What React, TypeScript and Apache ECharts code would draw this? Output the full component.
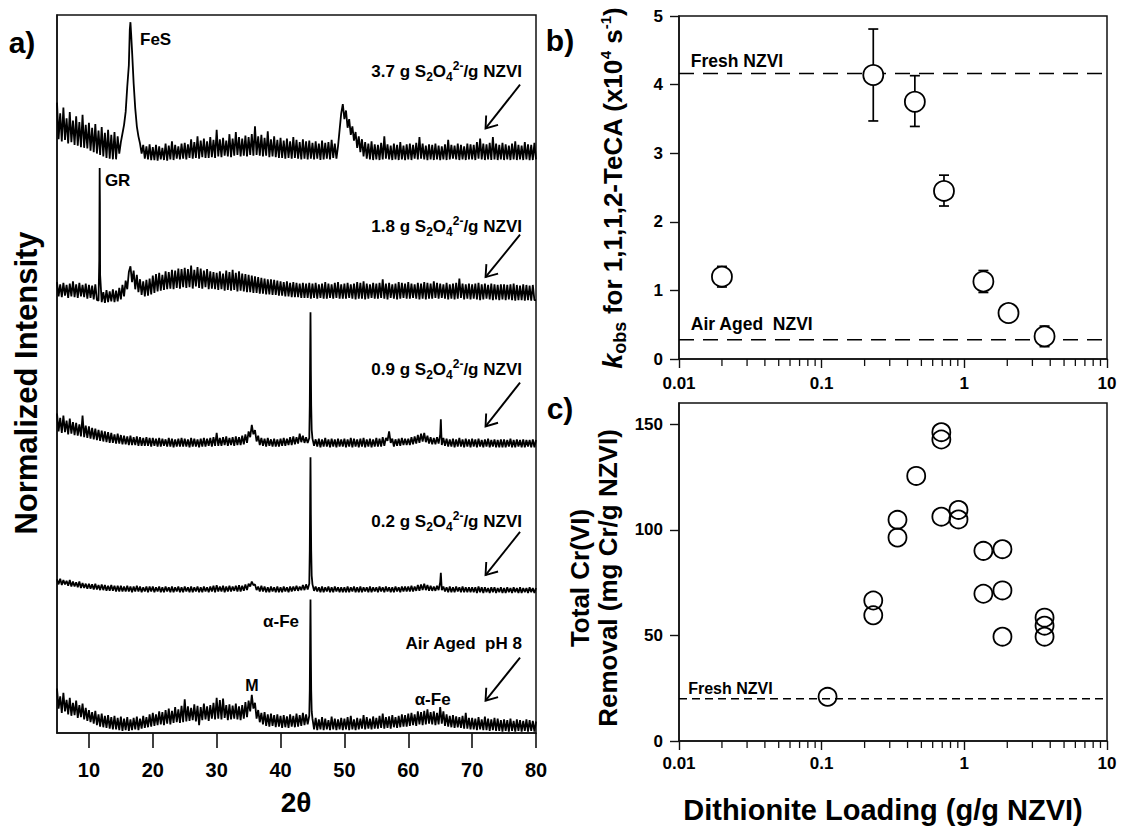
import React, { useEffect, useRef } from "react";
import * as echarts from "echarts";

const FONT = '"Liberation Sans", Arial, Helvetica, sans-serif';

// ---------------- panel a : XRD patterns (2-theta grid 5..80, step 0.25) ----------------
const XRD_START = 5;
const XRD_STEP = 0.25;
const XRD_TICKS = [10, 20, 30, 40, 50, 60, 70, 80];

const XRD_AIR = [
  6.2, 3.4, 5.1, 2.8, 5.6, 3.0, 4.6, 2.6, 4.9, 2.4, 4.2, 2.5, 4.5, 2.1, 3.9, 2.2, 4.1, 1.9, 3.5, 1.7,
  3.2, 1.5, 2.9, 1.3, 3.1, 1.1, 2.6, 0.9, 2.7, 0.8, 2.4, 0.7, 2.5, 0.6, 2.2, 0.5, 2.4, 0.5, 2.1, 0.4,
  2.3, 0.3, 2.0, 0.4, 2.2, 0.3, 1.9, 0.4, 2.1, 0.5, 2.3, 0.4, 2.0, 0.6, 2.4, 0.7, 2.2, 0.8, 2.6, 0.9,
  2.8, 1.0, 2.6, 1.1, 3.0, 1.2, 2.9, 1.1, 3.2, 1.3, 3.4, 1.2, 3.1, 1.4, 3.6, 1.5, 3.3, 1.4, 3.8, 1.5,
  4.7, 1.6, 3.7, 1.7, 3.5, 1.8, 4.0, 1.6, 3.8, 1.1, 3.6, 1.8, 4.1, 1.9, 3.7, 1.7, 3.9, 2.0, 4.2, 1.9,
  4.9, 2.0, 4.6, 1.9, 4.8, 2.1, 3.9, 1.8, 4.0, 1.9, 3.8, 2.0, 4.1, 1.9, 3.7, 1.8, 3.9, 2.0, 4.3, 2.2,
  4.5, 3.0, 5.3, 3.4, 4.2, 2.0, 3.2, 1.5, 2.8, 1.2, 2.9, 1.0, 2.6, 0.9, 2.7, 1.0, 2.5, 0.8, 2.6, 0.9,
  2.4, 0.7, 2.5, 0.8, 2.3, 0.7, 2.6, 0.9, 2.4, 0.8, 2.7, 0.9, 2.5, 1.0, 2.8, 1.1, 2.6, 1.2, 2.4, 11,
  2.0, 0.5, 2.1, 0.4, 1.9, 0.5, 2.2, 0.4, 2.0, 0.5, 1.8, 0.4, 2.3, 0.5, 2.0, 0.4, 1.9, 0.5, 2.1, 0.4,
  2.0, 0.5, 2.2, 0.4, 2.4, 0.5, 1.9, 0.4, 2.1, 0.5, 2.0, 0.6, 2.5, 0.5, 2.2, 0.6, 2.0, 0.5, 2.3, 0.6,
  2.1, 0.6, 2.4, 0.7, 2.7, 0.6, 2.2, 0.7, 2.3, 0.6, 2.5, 0.8, 2.2, 0.7, 2.4, 0.8, 2.6, 0.9, 2.5, 0.9,
  2.7, 1.0, 2.8, 1.1, 2.6, 1.0, 3.0, 1.2, 2.9, 1.1, 3.1, 1.2, 3.3, 1.3, 2.9, 1.2, 3.0, 1.1, 2.8, 1.2,
  3.6, 1.3, 3.0, 1.0, 2.6, 0.9, 2.4, 0.8, 2.5, 0.7, 2.3, 0.8, 2.2, 0.7, 2.4, 0.6, 2.8, 0.6, 2.1, 0.5,
  2.1, 0.5, 2.0, 0.4, 2.2, 0.5, 1.9, 0.4, 2.3, 0.4, 2.0, 0.3, 1.9, 0.4, 2.1, 0.3, 2.0, 0.3, 1.8, 0.2,
  1.9, 0.3, 1.8, 0.2, 2.0, 0.3, 1.7, 0.2, 1.9, 0.3, 1.8, 0.2, 1.7, 0.3, 1.9, 0.2, 1.8, 0.3, 1.7, 0.2,
  1.6,
];
const XRD_AIR_PEAKS = [[44.58, 6], [44.64, 13.5], [44.69, 18.6], [44.72, 15], [44.8, 6], [44.88, 3]];

const XRD_02 = [
  2.0, 1.3, 2.1, 1.2, 1.9, 1.3, 1.8, 1.1, 1.9, 1.0, 1.7, 1.0, 1.6, 0.9, 1.7, 0.8, 1.5, 0.8, 1.4, 0.7,
  1.4, 0.7, 1.3, 0.6, 1.4, 0.6, 1.2, 0.5, 1.3, 0.5, 1.2, 0.4, 1.1, 0.4, 1.2, 0.4, 1.1, 0.3, 1.1, 0.3,
  1.1, 0.3, 1.0, 0.3, 1.1, 0.3, 1.0, 0.2, 1.0, 0.3, 1.1, 0.3, 1.0, 0.2, 0.9, 0.3, 1.0, 0.2, 1.0, 0.3,
  1.0, 0.2, 0.9, 0.3, 1.0, 0.2, 0.9, 0.2, 1.0, 0.3, 0.9, 0.2, 1.0, 0.2, 0.9, 0.3, 1.0, 0.2, 0.9, 0.2,
  1.0, 0.3, 0.9, 0.2, 1.0, 0.2, 0.9, 0.3, 1.0, 0.2, 0.9, 0.2, 1.0, 0.3, 0.9, 0.2, 1.0, 0.3, 1.1, 0.2,
  1.2, 0.3, 1.0, 0.3, 1.1, 0.2, 1.0, 0.3, 1.1, 0.3, 1.0, 0.4, 1.1, 0.3, 1.2, 0.3, 1.1, 0.4, 1.3, 0.5,
  1.4, 1.0, 1.7, 1.2, 1.3, 0.5, 1.0, 0.3, 1.1, 0.3, 1.0, 0.2, 0.9, 0.2, 1.0, 0.3, 0.9, 0.2, 1.0, 0.2,
  0.9, 0.2, 1.0, 0.3, 0.9, 0.2, 1.0, 0.3, 1.0, 0.4, 1.1, 0.4, 1.0, 0.5, 1.2, 0.5, 1.3, 0.6, 1.4, 11,
  1.3, 0.4, 1.0, 0.3, 0.9, 0.2, 1.0, 0.2, 0.9, 0.3, 1.0, 0.2, 0.9, 0.2, 1.0, 0.3, 0.9, 0.2, 0.9, 0.2,
  0.9, 0.2, 1.0, 0.2, 0.9, 0.3, 1.0, 0.2, 0.9, 0.2, 1.0, 0.2, 0.9, 0.3, 0.9, 0.2, 1.0, 0.2, 0.9, 0.3,
  0.9, 0.2, 1.0, 0.3, 0.9, 0.2, 1.0, 0.3, 0.9, 0.2, 0.9, 0.2, 1.0, 0.3, 0.9, 0.2, 1.0, 0.3, 1.0, 0.3,
  1.0, 0.3, 1.1, 0.3, 1.0, 0.4, 1.2, 0.4, 1.3, 0.5, 1.4, 0.5, 1.2, 0.4, 1.1, 0.4, 1.0, 0.4, 1.1, 0.5,
  1.6, 0.5, 1.0, 0.3, 0.9, 0.2, 1.0, 0.2, 0.9, 0.2, 1.0, 0.3, 0.9, 0.2, 1.0, 0.2, 0.9, 0.2, 0.9, 0.2,
  0.9, 0.2, 0.9, 0.1, 1.0, 0.2, 0.9, 0.1, 0.9, 0.2, 0.8, 0.1, 0.9, 0.2, 0.9, 0.1, 0.8, 0.2, 0.9, 0.1,
  0.8, 0.1, 0.9, 0.2, 0.8, 0.1, 0.9, 0.2, 0.8, 0.1, 0.9, 0.1, 0.8, 0.2, 0.8, 0.1, 0.9, 0.2, 0.8, 0.1,
  0.8,
];
const XRD_02_PEAKS = [[44.58, 6], [44.64, 13.5], [44.69, 19], [44.72, 15.5], [44.8, 6], [44.88, 2.5], [65.1, 2.9], [65.18, 1.6]];

const XRD_09 = [
  4.9, 2.4, 4.3, 2.2, 4.6, 2.3, 3.9, 2.0, 4.2, 2.1, 3.7, 1.9, 3.6, 1.8, 3.4, 1.7, 4.6, 1.6, 3.2, 1.5,
  3.1, 1.4, 2.9, 1.3, 2.8, 1.2, 2.6, 1.1, 2.5, 1.0, 2.4, 0.9, 2.3, 0.8, 2.2, 0.8, 2.0, 0.7, 2.1, 0.7,
  1.9, 0.6, 1.8, 0.6, 1.7, 0.5, 1.8, 0.5, 1.6, 0.5, 1.7, 0.4, 1.6, 0.4, 1.5, 0.4, 1.6, 0.4, 1.5, 0.3,
  1.5, 0.4, 1.4, 0.3, 1.5, 0.3, 1.4, 0.4, 1.3, 0.3, 1.5, 0.3, 1.4, 0.2, 1.3, 0.3, 1.4, 0.3, 1.5, 0.3,
  1.4, 0.3, 1.3, 0.2, 1.5, 0.3, 1.4, 0.3, 1.3, 0.2, 1.4, 0.3, 1.5, 0.3, 1.4, 0.4, 1.5, 0.3, 1.6, 0.4,
  2.2, 0.4, 1.5, 0.4, 1.6, 0.5, 1.7, 0.4, 1.5, 0.5, 1.6, 0.4, 1.7, 0.5, 1.6, 0.5, 1.8, 0.6, 2.0, 0.8,
  2.4, 1.6, 3.3, 2.0, 2.6, 1.0, 1.8, 0.5, 1.5, 0.4, 1.4, 0.3, 1.5, 0.4, 1.3, 0.3, 1.4, 0.3, 1.3, 0.3,
  1.4, 0.4, 1.5, 0.4, 1.4, 0.5, 1.6, 0.5, 1.7, 0.6, 1.6, 0.7, 2.1, 0.9, 1.8, 0.8, 1.6, 0.8, 1.5, 11,
  1.4, 0.4, 1.3, 0.3, 1.4, 0.2, 1.3, 0.3, 1.5, 0.3, 1.3, 0.2, 1.4, 0.3, 1.3, 0.2, 1.4, 0.3, 1.3, 0.3,
  1.4, 0.2, 1.3, 0.3, 1.5, 0.2, 1.4, 0.3, 1.3, 0.2, 1.4, 0.3, 1.5, 0.2, 1.3, 0.3, 1.4, 0.2, 1.3, 0.3,
  1.5, 0.3, 1.4, 0.3, 1.6, 0.4, 1.5, 1.1, 2.4, 0.8, 1.4, 0.3, 1.3, 0.4, 1.4, 0.4, 1.5, 0.5, 1.4, 0.5,
  1.4, 0.5, 1.6, 0.6, 1.7, 0.7, 1.9, 0.8, 2.1, 1.0, 2.2, 0.9, 1.8, 0.7, 1.6, 0.6, 1.5, 0.6, 1.6, 0.7,
  2.0, 0.5, 1.5, 0.4, 1.4, 0.3, 1.3, 0.3, 1.4, 0.2, 1.3, 0.3, 1.5, 0.3, 1.3, 0.2, 1.4, 0.3, 1.3, 0.2,
  1.4, 0.3, 1.3, 0.2, 1.4, 0.3, 1.2, 0.2, 1.3, 0.3, 1.4, 0.2, 1.2, 0.3, 1.3, 0.2, 1.2, 0.2, 1.3, 0.2,
  1.3, 0.2, 1.2, 0.3, 1.4, 0.2, 1.2, 0.2, 1.3, 0.3, 1.2, 0.2, 1.3, 0.2, 1.2, 0.3, 1.2, 0.2, 1.3, 0.2,
  1.2,
];
const XRD_09_PEAKS = [[44.58, 6], [44.64, 13.5], [44.69, 19], [44.72, 15.5], [44.8, 6], [44.88, 2.6], [65.1, 4.1], [65.18, 2.0]];

const XRD_18 = [
  3.0, 1.0, 2.7, 0.9, 2.9, 1.1, 2.6, 0.8, 2.8, 1.0, 3.1, 0.9, 2.7, 0.8, 2.9, 1.0, 2.6, 0.9, 2.8, 0.7,
  2.6, 0.8, 2.5, 0.6, 2.7, 0.5, 0.4, 4.0, 0.2, 1.6, 0.1, 1.9, 0.2, 1.7, 0.3, 2.0, 0.2, 1.8, 0.3, 2.2,
  0.6, 2.6, 1.0, 3.2, 2.0, 4.4, 5.2, 3.0, 4.6, 2.0, 4.0, 1.6, 3.4, 1.2, 3.1, 1.0, 3.3, 1.1, 3.5, 1.3,
  3.9, 1.5, 4.1, 1.7, 4.3, 1.8, 4.0, 1.9, 4.5, 2.0, 4.4, 2.1, 4.7, 2.0, 4.6, 2.2, 4.9, 2.1, 4.8, 2.3,
  5.0, 2.2, 4.8, 2.3, 5.3, 2.1, 4.7, 2.4, 5.1, 2.2, 4.9, 2.1, 4.6, 2.3, 4.8, 2.0, 4.5, 2.1, 4.4, 2.0,
  4.3, 1.9, 4.5, 2.0, 4.2, 1.8, 4.6, 1.9, 4.4, 1.8, 4.7, 1.9, 4.3, 1.7, 4.5, 1.8, 4.2, 1.7, 4.1, 1.6,
  4.0, 1.6, 3.9, 1.5, 3.8, 1.5, 3.7, 1.4, 3.6, 1.4, 3.5, 1.3, 3.4, 1.3, 3.4, 1.2, 3.3, 1.2, 3.2, 1.1,
  3.1, 1.1, 3.0, 1.0, 3.1, 1.0, 2.9, 0.9, 3.0, 0.9, 2.9, 0.9, 2.8, 0.8, 2.9, 0.8, 2.8, 0.8, 2.9, 0.7,
  2.8, 0.8, 2.9, 0.7, 2.7, 0.8, 2.8, 0.7, 3.0, 0.7, 2.8, 0.8, 2.7, 0.7, 2.9, 0.8, 3.0, 0.7, 2.7, 0.7,
  2.8, 0.7, 2.9, 0.8, 2.7, 0.7, 2.8, 0.6, 3.0, 0.7, 2.9, 0.7, 3.1, 0.6, 2.8, 0.7, 2.7, 0.8, 2.9, 0.7,
  2.8, 0.7, 2.9, 0.8, 3.4, 0.7, 2.8, 0.6, 2.9, 0.8, 2.7, 0.7, 2.8, 0.6, 3.0, 0.7, 2.9, 0.8, 2.8, 0.7,
  3.0, 0.7, 2.8, 0.8, 2.7, 0.7, 2.9, 0.6, 2.8, 0.7, 3.0, 0.6, 2.9, 0.7, 2.8, 0.7, 3.1, 0.8, 2.9, 0.7,
  2.8, 0.8, 2.7, 0.7, 2.9, 0.6, 2.7, 0.7, 2.8, 0.6, 2.9, 0.7, 3.5, 0.8, 2.8, 0.6, 2.7, 0.7, 2.8, 0.6,
  2.7, 0.7, 2.8, 0.6, 2.9, 0.5, 2.7, 0.6, 2.8, 0.7, 2.6, 0.6, 2.8, 0.5, 2.7, 0.6, 2.6, 0.5, 2.7, 0.6,
  2.7, 0.5, 2.6, 0.6, 2.7, 0.5, 2.8, 0.4, 2.6, 0.5, 2.5, 0.5, 2.7, 0.4, 2.6, 0.5, 2.5, 0.4, 2.6, 0.5,
  0.5,
];
const XRD_18_PEAKS = [[11.62, 6], [11.68, 18.9], [11.72, 14]];

const XRD_37 = [
  8.3, 3.2, 6.8, 2.9, 7.6, 3.1, 6.1, 2.6, 7.0, 2.8, 5.8, 2.4, 6.4, 2.3, 5.6, 2.1, 6.6, 2.0, 5.2, 1.9,
  5.5, 1.6, 4.8, 1.4, 5.3, 1.2, 4.4, 1.0, 4.9, 0.8, 4.1, 0.6, 4.5, 0.5, 3.8, 0.4, 4.2, 0.4, 3.6, 1.2,
  2.8, 4.0, 5.2, 7.0, 10.5, 13.5, 19.5, 15.5, 11.0, 7.5, 5.0, 3.6, 2.6, 1.2, 2.4, 0.5, 2.2, 0.4, 2.5, 0.3,
  2.1, 0.3, 2.4, 0.2, 2.2, 0.4, 2.0, 0.3, 2.6, 0.2, 2.3, 0.4, 2.9, 0.3, 2.4, 0.5, 2.2, 0.4, 2.6, 0.5,
  2.7, 0.4, 2.5, 0.6, 3.2, 0.5, 2.8, 0.6, 3.6, 0.5, 3.0, 0.7, 3.3, 0.6, 2.9, 0.6, 3.5, 0.7, 3.1, 0.6,
  4.5, 0.8, 3.2, 0.7, 3.4, 0.9, 3.0, 0.8, 3.9, 0.7, 3.3, 0.9, 4.2, 1.0, 3.5, 0.8, 3.3, 0.9, 3.7, 0.8,
  3.5, 1.0, 3.9, 0.9, 5.0, 1.0, 3.6, 0.9, 3.8, 0.8, 3.4, 0.9, 4.3, 0.7, 3.2, 0.8, 3.6, 0.7, 3.1, 0.6,
  3.4, 0.6, 3.0, 0.5, 3.3, 0.6, 2.9, 0.5, 3.5, 0.6, 3.1, 0.5, 2.8, 0.4, 3.2, 0.5, 2.9, 0.4, 3.0, 0.5,
  2.7, 0.4, 2.9, 0.5, 2.6, 0.3, 3.0, 0.4, 2.7, 0.5, 2.8, 0.4, 3.1, 0.6, 2.6, 0.5, 2.2, 4.5, 6.8, 8.1,
  6.0, 7.2, 4.8, 6.0, 3.8, 5.0, 3.0, 4.2, 2.0, 3.6, 1.4, 3.2, 0.8, 2.8, 0.5, 2.6, 0.4, 2.9, 0.3, 2.5,
  0.4, 2.4, 0.3, 2.7, 0.4, 3.6, 0.5, 2.5, 0.4, 2.3, 0.3, 2.6, 0.4, 2.4, 0.3, 2.8, 0.4, 2.3, 0.3, 2.5,
  0.4, 2.6, 0.3, 2.4, 0.5, 2.7, 0.4, 3.5, 0.5, 2.6, 0.4, 2.3, 0.3, 2.5, 0.4, 2.4, 0.3, 2.6, 0.4, 2.3,
  0.3, 2.2, 0.4, 2.5, 0.3, 3.1, 0.4, 2.4, 0.5, 2.3, 0.4, 2.6, 0.3, 2.4, 0.4, 2.2, 0.3, 2.6, 0.4, 2.5,
  0.4, 2.4, 0.3, 2.8, 0.5, 3.3, 0.4, 2.6, 0.3, 2.5, 0.4, 2.7, 0.3, 3.5, 0.4, 2.6, 0.3, 2.4, 0.4, 2.7,
  0.3, 2.5, 0.4, 2.3, 0.3, 2.6, 0.4, 2.9, 0.3, 2.4, 0.4, 2.3, 0.3, 2.8, 0.4, 2.5, 0.3, 2.4, 0.3, 2.7,
  0.4,
];
const XRD_37_PEAKS = [[16.4, 18.5], [16.6, 18.0]];

// vertical stacking offsets: Air aged, 0.2, 0.9, 1.8, 3.7 g/g
const XRD_OFFSETS = [0, 19.4, 39.6, 59.8, 79.5];

// ---------------- panel b : kobs ----------------
const KOBS_LOADING = [0.02, 0.23, 0.45, 0.72, 1.36, 2.04, 3.65];
const KOBS = [1.2, 4.14, 3.75, 2.45, 1.13, 0.67, 0.33];
const KOBS_LOW = [1.05, 3.47, 3.39, 2.23, 0.97, 0.63, 0.18];
const KOBS_HIGH = [1.35, 4.81, 4.13, 2.68, 1.29, 0.71, 0.48];
const KOBS_FRESH = 4.16;
const KOBS_AIR = 0.28;

// ---------------- panel c : Cr(VI) removal ----------------
const CR_LOADING = [0.11, 0.23, 0.23, 0.34, 0.34, 0.46, 0.69, 0.69, 0.69, 0.91, 0.91, 1.36, 1.36, 1.85, 1.85, 1.85, 3.65, 3.65, 3.65];
const CR_REMOVAL = [20.9, 66.5, 59.5, 104.7, 96.3, 125.5, 146.2, 142.7, 106.2, 109.4, 104.9, 90.0, 69.7, 90.8, 71.3, 49.4, 58.4, 54.6, 49.4];
const CR_FRESH = 20;
const CR_TICKS = [0, 50, 100, 150];

const LOG_MINOR_TICKS = [
  0.02, 0.03, 0.04, 0.05, 0.06, 0.07, 0.08, 0.09,
  0.2, 0.3, 0.4, 0.5, 0.6, 0.7, 0.8, 0.9,
  2, 3, 4, 5, 6, 7, 8, 9,
];

function buildTrace(vals: number[], peaks: number[][], offset: number) {
  const pts = vals.map((v, i) => [XRD_START + i * XRD_STEP, v + offset]);
  peaks.forEach(([x, v]) => pts.push([x, v + offset]));
  pts.sort((a, b) => a[0] - b[0]);
  return pts;
}

const AXIS_COLOR = "#111";
const tickLabel = (size: number, margin: number) => ({
  fontSize: size,
  fontWeight: "bold",
  fontFamily: FONT,
  color: "#000",
  margin,
});

function logAxis(gridIndex: number, margin: number) {
  return {
    gridIndex,
    type: "log",
    logBase: 10,
    min: 0.01,
    max: 10,
    axisLine: { show: true, onZero: false, lineStyle: { color: AXIS_COLOR, width: 1.5 } },
    axisTick: { show: true, length: 9, lineStyle: { color: AXIS_COLOR, width: 1.4 } },
    minorTick: { show: false },
    axisLabel: { ...tickLabel(17, margin), formatter: (v: number) => String(Number(v.toPrecision(2))) },
    splitLine: { show: false },
  };
}

function minorTickSeries(axisIndex: number) {
  return {
    type: "custom",
    xAxisIndex: axisIndex,
    yAxisIndex: axisIndex,
    silent: true,
    clip: false,
    data: LOG_MINOR_TICKS.map((v) => [v, 0]),
    encode: { x: 0, y: 1 },
    renderItem: (_p: any, api: any) => {
      const p = api.coord([api.value(0), 0]);
      return {
        type: "line",
        shape: { x1: p[0], y1: p[1], x2: p[0], y2: p[1] + 7 },
        style: { stroke: AXIS_COLOR, lineWidth: 1.3 },
      };
    },
    z: 1,
  };
}

const RICH_LABEL = {
  n: { fontSize: 17, fontWeight: "bold", fontFamily: FONT, fill: "#000", lineHeight: 23 },
  sb: { fontSize: 12, fontWeight: "bold", fontFamily: FONT, fill: "#000", lineHeight: 12, verticalAlign: "bottom" },
  sp: { fontSize: 12, fontWeight: "bold", fontFamily: FONT, fill: "#000", lineHeight: 12, verticalAlign: "top" },
};

function loadingLabel(amount: string) {
  return `{n|${amount} g S}{sb|2}{n|O}{sb|4}{sp|2-}{n|/g NZVI}`;
}

export default function App() {
  const ref = useRef<HTMLDivElement>(null);

  useEffect(() => {
    document.body.style.margin = "0";
    if (!ref.current) return;
    const chart = echarts.init(ref.current, undefined, { renderer: "svg" });

    const traces = [
      buildTrace(XRD_AIR, XRD_AIR_PEAKS, XRD_OFFSETS[0]),
      buildTrace(XRD_02, XRD_02_PEAKS, XRD_OFFSETS[1]),
      buildTrace(XRD_09, XRD_09_PEAKS, XRD_OFFSETS[2]),
      buildTrace(XRD_18, XRD_18_PEAKS, XRD_OFFSETS[3]),
      buildTrace(XRD_37, XRD_37_PEAKS, XRD_OFFSETS[4]),
    ];

    const gridBox = { show: true, borderColor: AXIS_COLOR, borderWidth: 1.5, backgroundColor: "transparent" };

    const option: any = {
      animation: false,
      backgroundColor: "#fff",
      grid: [
        { left: 57, top: 15, width: 479, height: 718, ...gridBox },
        { left: 679, top: 16, width: 428, height: 343, ...gridBox },
        { left: 679, top: 403, width: 428, height: 338, ...gridBox },
      ],
      xAxis: [
        {
          gridIndex: 0,
          type: "value",
          min: 5,
          max: 80,
          axisLine: { show: true, onZero: false, lineStyle: { color: AXIS_COLOR, width: 1.5 } },
          axisTick: { show: true, length: 15, customValues: XRD_TICKS, lineStyle: { color: AXIS_COLOR, width: 1.6 } },
          axisLabel: { ...tickLabel(20, 27), customValues: XRD_TICKS },
          splitLine: { show: false },
        },
        logAxis(1, 16),
        logAxis(2, 14),
      ],
      yAxis: [
        {
          gridIndex: 0,
          type: "value",
          min: 0,
          max: 100,
          axisLine: { show: true, onZero: false, lineStyle: { color: AXIS_COLOR, width: 1.5 } },
          axisTick: { show: false },
          axisLabel: { show: false },
          splitLine: { show: false },
        },
        {
          gridIndex: 1,
          type: "value",
          min: 0,
          max: 5,
          interval: 1,
          axisLine: { show: true, onZero: false, lineStyle: { color: AXIS_COLOR, width: 1.5 } },
          axisTick: { show: true, length: 9, lineStyle: { color: AXIS_COLOR, width: 1.4 } },
          axisLabel: tickLabel(17, 16),
          splitLine: { show: false },
        },
        {
          gridIndex: 2,
          type: "value",
          min: 0,
          max: 160,
          axisLine: { show: true, onZero: false, lineStyle: { color: AXIS_COLOR, width: 1.5 } },
          axisTick: { show: true, length: 9, customValues: CR_TICKS, lineStyle: { color: AXIS_COLOR, width: 1.4 } },
          axisLabel: { ...tickLabel(17, 16), customValues: CR_TICKS },
          splitLine: { show: false },
        },
      ],
      series: [
        ...traces.map((data) => ({
          type: "line",
          xAxisIndex: 0,
          yAxisIndex: 0,
          data,
          showSymbol: false,
          symbol: "none",
          silent: true,
          lineStyle: { color: "#000", width: 1.8, join: "bevel" },
          z: 2,
        })),
        // panel b reference levels
        {
          type: "line",
          xAxisIndex: 1,
          yAxisIndex: 1,
          data: [[0.01, KOBS_FRESH], [10, KOBS_FRESH]],
          symbol: "none",
          silent: true,
          lineStyle: { color: "#000", width: 1.5, type: [15, 9] },
          z: 1,
        },
        {
          type: "line",
          xAxisIndex: 1,
          yAxisIndex: 1,
          data: [[0.01, KOBS_AIR], [10, KOBS_AIR]],
          symbol: "none",
          silent: true,
          lineStyle: { color: "#000", width: 1.5, type: [15, 9] },
          z: 1,
        },
        // panel b error bars
        {
          type: "custom",
          xAxisIndex: 1,
          yAxisIndex: 1,
          silent: true,
          data: KOBS_LOADING.map((x, i) => [x, KOBS[i], KOBS_LOW[i], KOBS_HIGH[i]]),
          encode: { x: 0, y: 1 },
          renderItem: (_p: any, api: any) => {
            const x = api.value(0);
            const lo = api.coord([x, api.value(2)]);
            const hi = api.coord([x, api.value(3)]);
            const st = { stroke: "#000", lineWidth: 1.7 };
            return {
              type: "group",
              children: [
                { type: "line", shape: { x1: lo[0], y1: lo[1], x2: hi[0], y2: hi[1] }, style: st },
                { type: "line", shape: { x1: lo[0] - 5, y1: lo[1], x2: lo[0] + 5, y2: lo[1] }, style: st },
                { type: "line", shape: { x1: hi[0] - 5, y1: hi[1], x2: hi[0] + 5, y2: hi[1] }, style: st },
              ],
            };
          },
          z: 2,
        },
        {
          type: "scatter",
          xAxisIndex: 1,
          yAxisIndex: 1,
          data: KOBS_LOADING.map((x, i) => [x, KOBS[i]]),
          symbol: "circle",
          symbolSize: 20,
          silent: true,
          itemStyle: { color: "#fff", borderColor: "#000", borderWidth: 1.8, opacity: 1 },
          z: 5,
        },
        minorTickSeries(1),
        // panel c
        {
          type: "line",
          xAxisIndex: 2,
          yAxisIndex: 2,
          data: [[0.01, CR_FRESH], [10, CR_FRESH]],
          symbol: "none",
          silent: true,
          lineStyle: { color: "#000", width: 1.3, type: [8, 5] },
          z: 1,
        },
        {
          type: "scatter",
          xAxisIndex: 2,
          yAxisIndex: 2,
          data: CR_LOADING.map((x, i) => [x, CR_REMOVAL[i]]),
          symbol: "circle",
          symbolSize: 18,
          silent: true,
          itemStyle: { color: "rgba(255,255,255,0)", borderColor: "#000", borderWidth: 1.8, opacity: 1 },
          z: 5,
        },
        minorTickSeries(2),
      ],
    };

    chart.setOption(option);

    const px = (g: number, x: number, y: number) =>
      chart.convertToPixel({ xAxisIndex: g, yAxisIndex: g } as any, [x, y]) as number[];

    const text = (x: number, y: number, t: string, size: number, align = "center", extra: any = {}) => ({
      type: "text",
      x,
      y,
      silent: true,
      z: 20,
      ...extra,
      style: {
        text: t,
        fill: "#000",
        fontFamily: FONT,
        fontWeight: "bold",
        fontSize: size,
        align,
        verticalAlign: "middle",
        ...(extra.style || {}),
      },
    });

    const arrow = (s: number[], t: number[]) => {
      const dx = s[0] - t[0];
      const dy = s[1] - t[1];
      const L = Math.hypot(dx, dy);
      const ux = dx / L;
      const uy = dy / L;
      const h = 13;
      const rot = (a: number) => [
        t[0] + h * (ux * Math.cos(a) - uy * Math.sin(a)),
        t[1] + h * (ux * Math.sin(a) + uy * Math.cos(a)),
      ];
      const st = { stroke: "#000", lineWidth: 1.9, fill: null };
      return [
        { type: "line", silent: true, z: 20, shape: { x1: s[0], y1: s[1], x2: t[0], y2: t[1] }, style: st },
        { type: "polyline", silent: true, z: 20, shape: { points: [rot(0.62), t, rot(-0.62)] }, style: st },
      ];
    };

    const labelDefs = [
      { t: loadingLabel("3.7"), y: 92.1, a0: 90.3, a1: 84.2 },
      { t: loadingLabel("1.8"), y: 70.6, a0: 69.4, a1: 63.5 },
      { t: loadingLabel("0.9"), y: 50.6, a0: 48.8, a1: 42.7 },
      { t: loadingLabel("0.2"), y: 29.5, a0: 28.0, a1: 22.0 },
      { t: "{n|Air Aged  pH 8}", y: 12.5, a0: 10.5, a1: 4.5 },
    ];

    const elements: any[] = [];
    labelDefs.forEach((d) => {
      const p = px(0, 77.8, d.y);
      elements.push(text(p[0], p[1], d.t, 17, "right", { style: { rich: RICH_LABEL } }));
      elements.push(...arrow(px(0, 77.5, d.a0), px(0, 72.1, d.a1)));
    });

    const pFeS = px(0, 18.0, 96.6);
    elements.push(text(pFeS[0], pFeS[1], "FeS", 17, "left"));
    const pGR = px(0, 12.5, 77.0);
    elements.push(text(pGR[0], pGR[1], "GR", 17, "left"));
    const pAF = px(0, 42.9, 15.5);
    elements.push(text(pAF[0], pAF[1], "α-Fe", 17, "right"));
    const pM = px(0, 35.5, 6.6);
    elements.push(text(pM[0], pM[1], "M", 16, "center"));
    const pAF2 = px(0, 61.0, 4.7);
    elements.push(text(pAF2[0], pAF2[1], "α-Fe", 17, "left"));

    // panel b reference labels
    const pF = px(1, 0.0121, KOBS_FRESH);
    elements.push(text(pF[0], pF[1] - 13, "Fresh NZVI", 17.5, "left"));
    const pA = px(1, 0.0121, KOBS_AIR);
    elements.push(text(pA[0], pA[1] - 16, "Air Aged  NZVI", 17.5, "left"));
    // panel c reference label
    const pC = px(2, 0.0116, CR_FRESH);
    elements.push(text(pC[0], pC[1] - 10, "Fresh NZVI", 16, "left"));

    // panel letters and axis titles
    elements.push(text(22, 42, "a)", 30));
    elements.push(text(560, 40, "b)", 30));
    elements.push(text(560, 408, "c)", 30));
    elements.push(text(296, 802, "2θ", 28));
    elements.push(text(26, 383, "Normalized Intensity", 31, "center", { rotation: Math.PI / 2 }));

    const TITLE_RICH = {
      k: { fontSize: 27, fontWeight: "bold", fontStyle: "italic", fontFamily: FONT, fill: "#000", lineHeight: 31 },
      n: { fontSize: 26, fontWeight: "bold", fontFamily: FONT, fill: "#000", lineHeight: 31 },
      sb: { fontSize: 18, fontWeight: "bold", fontFamily: FONT, fill: "#000", lineHeight: 18, verticalAlign: "bottom" },
      sp: { fontSize: 15, fontWeight: "bold", fontFamily: FONT, fill: "#000", lineHeight: 15, verticalAlign: "top" },
    };
    elements.push(
      text(613, 188, "{k|k}{sb|obs}{n| for 1,1,1,2-TeCA (x10}{sp|4}{n| s}{sp|-1}{n|)}", 26, "center", {
        rotation: Math.PI / 2,
        style: { rich: TITLE_RICH },
      })
    );
    elements.push(text(580, 578, "Total Cr(VI)", 26, "center", { rotation: Math.PI / 2 }));
    elements.push(text(608, 578, "Removal (mg Cr/g NZVI)", 26, "center", { rotation: Math.PI / 2 }));
    elements.push(text(883, 810, "Dithionite Loading (g/g NZVI)", 29, "center"));

    chart.setOption({ graphic: elements });

    return () => chart.dispose();
  }, []);

  return <div ref={ref} style={{ width: 1135, height: 833, background: "#fff" }} />;
}
